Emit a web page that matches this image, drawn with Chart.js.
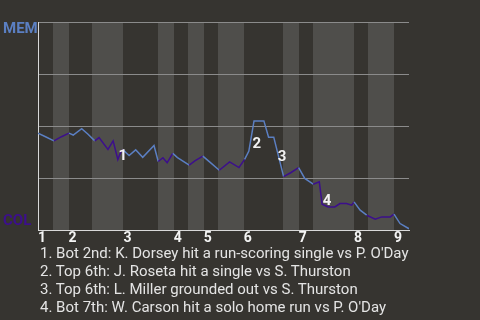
<!DOCTYPE html>
<html><head><meta charset="utf-8">
<script src="https://cdn.jsdelivr.net/npm/chart.js@4.4.1/dist/chart.umd.min.js"></script>
<style>
html,body{margin:0;padding:0;background:#363430;}
#wrap{position:relative;width:480px;height:320px;overflow:hidden;}
#c{position:absolute;left:0;top:0;}
#notes{position:absolute;left:40px;top:244px;font-family:Roboto,sans-serif;font-size:15px;line-height:18px;color:#e4e4e4;white-space:nowrap;}
</style></head><body>
<div id="wrap"><canvas id="c" width="480" height="320"></canvas><div id="notes"></div></div>
<script>
// ---- data ----
const playX = [0,1.6,3.4,5.0,6.6,7.5,9.3,10.6,12.1,13.0,14.9,16.0,17.0,17.6,18.1,19.4,20.8,22.3,24.7,25.6,26.6,27.5,28.7,29.7,32.2,33.4,35.1,36.6,38.6,40.8,42.8,44.0,44.9,46.0,48.1,49.1,50.2,52.3,53.8,55.5,56.8,58.6,59.9,60.5,61.8,63.2,64.3,65.7,66.8,67.3,68.6,70.0,71.8,73.2,75.0,75.8,77.1,79];
const memWinProb = [0.466,0.449,0.429,0.449,0.466,0.457,0.488,0.462,0.429,0.445,0.388,0.429,0.340,0.375,0.386,0.359,0.386,0.350,0.407,0.330,0.348,0.324,0.369,0.349,0.3125,0.333,0.356,0.327,0.288,0.328,0.301,0.340,0.380,0.525,0.525,0.447,0.447,0.257,0.276,0.301,0.249,0.221,0.232,0.125,0.112,0.112,0.128,0.128,0.120,0.136,0.096,0.072,0.053,0.064,0.064,0.077,0.032,0.007];
const halfInningStarts = [0,3.1,6.5,11.6,18.2,25.5,28.9,31.9,35.3,38.3,43.8,52.1,55.5,58.5,67.3,70.2,75.8];
const gameEnd = 79;
const inningLabels = ['1','2','3','4','5','6','7','8','9'];
const teamLabels = ['MEM','COL'];
const eventPlays = [17.0,46.0,52.3,60.5];
const eventNumbers = ['1','2','3','4'];
const eventTexts = [
  "Bot 2nd: K. Dorsey hit a run-scoring single vs P. O'Day",
  "Top 6th: J. Roseta hit a single vs S. Thurston",
  "Top 6th: L. Miller grounded out vs S. Thurston",
  "Bot 7th: W. Carson hit a solo home run vs P. O'Day"
];

// ---- style ----
const BG = '#363430', BAND = '#4f4e4b', BLUE = '#5b7fc2', PURPLE = '#3c0f8c', GRID = '#8b8b8b', AXIS = '#d9d9d9';
const labelNudges = [[3,10],[1,12],[-1,4],[2,12]];

function halfIndex(x){ let i = 0; for (let k = 0; k < halfInningStarts.length; k++) if (x >= halfInningStarts[k]) i = k; return i; }
const inningStarts = halfInningStarts.filter((v,i) => i % 2 === 0);

const bandsPlugin = {
  id: 'bands',
  beforeDraw(chart){
    const {ctx, chartArea: a, scales: {x}} = chart;
    ctx.save();
    ctx.fillStyle = BG; ctx.fillRect(0,0,chart.width,chart.height);
    ctx.fillStyle = BAND;
    for (let k = 1; k < halfInningStarts.length; k += 2){
      const x0 = Math.round(x.getPixelForValue(halfInningStarts[k]));
      const x1 = Math.round(x.getPixelForValue(k + 1 < halfInningStarts.length ? halfInningStarts[k+1] : gameEnd));
      ctx.fillRect(x0, a.top, x1 - x0, a.bottom - a.top);
    }
    ctx.restore();
  },
  afterDraw(chart){
    const {ctx, scales: {x, y}} = chart;
    ctx.save();
    ctx.textAlign = 'left'; ctx.textBaseline = 'alphabetic';
    ctx.font = 'bold 15px Roboto';
    ctx.fillStyle = BLUE; ctx.fillText(teamLabels[0], 3, y.getPixelForValue(1) + 11);
    ctx.fillStyle = PURPLE; ctx.fillText(teamLabels[1], 3, y.getPixelForValue(0) - 5);
    ctx.fillStyle = '#f2f2f2';
    eventPlays.forEach((p, i) => {
      const j = playX.indexOf(p);
      const mx = (x.getPixelForValue(playX[j-1]) + x.getPixelForValue(playX[j])) / 2;
      const my = (y.getPixelForValue(memWinProb[j-1]) + y.getPixelForValue(memWinProb[j])) / 2;
      ctx.fillText(eventNumbers[i], mx + labelNudges[i][0], my + labelNudges[i][1]);
    });
    ctx.restore();
  }
};

new Chart(document.getElementById('c'), {
  type: 'line',
  data: { datasets: [{
    data: playX.map((v,i) => ({x: v, y: memWinProb[i]})),
    borderColor: BLUE, borderWidth: 1.5, pointRadius: 0, tension: 0, fill: false,
    segment: { borderColor: c => halfIndex((c.p0.parsed.x + c.p1.parsed.x) / 2) % 2 === 0 ? BLUE : PURPLE }
  }]},
  options: {
    responsive: false, animation: false, devicePixelRatio: 1,
    layout: { padding: { left: 38, right: 71, top: 22, bottom: 73 } },
    plugins: { legend: { display: false }, tooltip: { enabled: false } },
    scales: {
      x: {
        type: 'linear', min: 0, max: gameEnd,
        grid: { display: false, drawTicks: false },
        border: { display: true, color: AXIS, width: 1 },
        afterBuildTicks: s => { s.ticks = inningStarts.map(v => ({value: v})); },
        ticks: { autoSkip: false, maxRotation: 0, align: 'start', padding: 0, color: '#f4f4f4',
          font: { family: 'Roboto', weight: 'bold', size: 14 },
          callback: (v, i) => inningLabels[i] }
      },
      y: {
        min: 0, max: 1,
        ticks: { display: false, stepSize: 0.25 },
        grid: { drawTicks: false, lineWidth: 1, color: c => c.tick && c.tick.value === 0 ? 'rgba(0,0,0,0)' : GRID },
        border: { display: true, color: AXIS, width: 1 }
      }
    }
  },
  plugins: [bandsPlugin]
});

document.getElementById('notes').innerHTML = eventTexts.map((t,i) => eventNumbers[i] + '. ' + t).join('<br>');
</script>
</body></html>
